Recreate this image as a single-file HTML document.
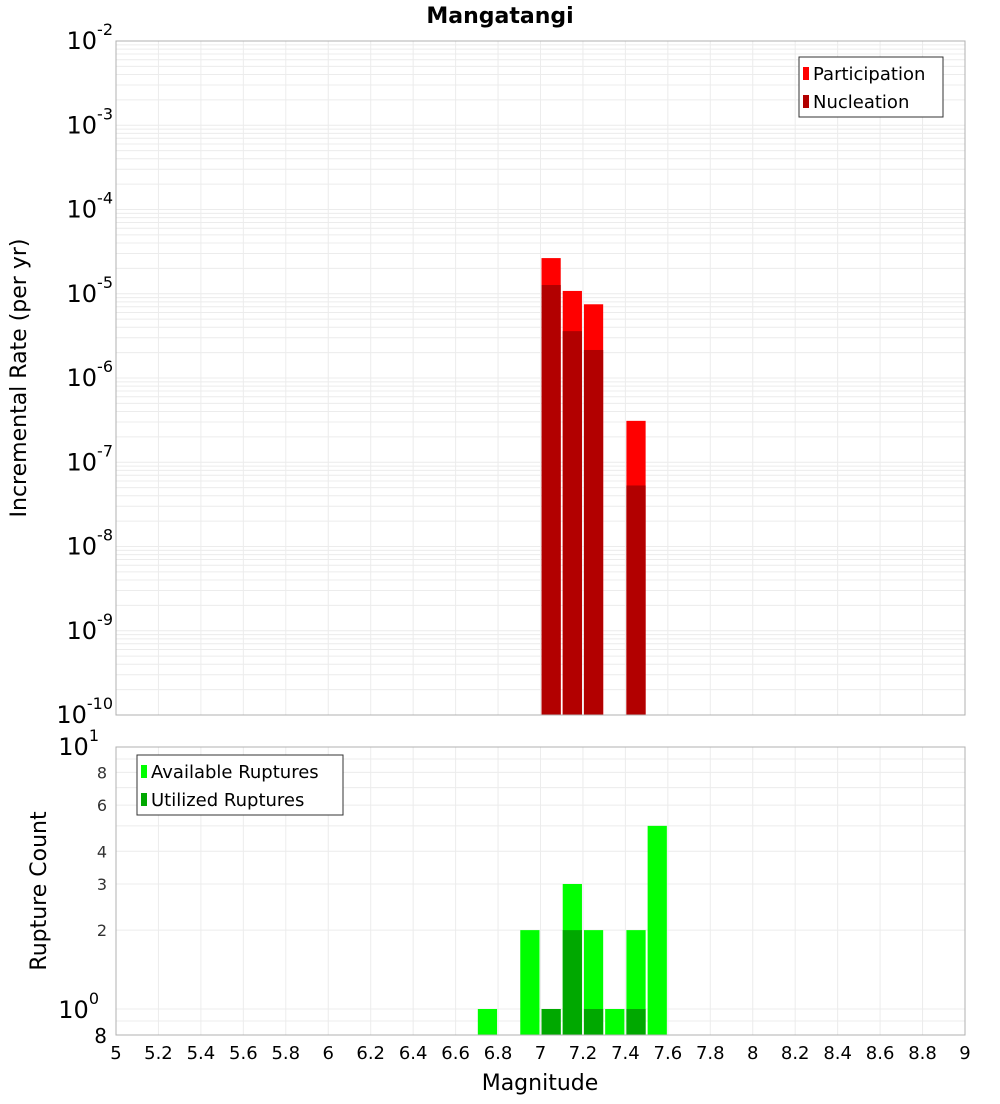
<!DOCTYPE html>
<html><head><meta charset="utf-8"><style>
body{margin:0;background:#fff;font-family:"DejaVu Sans","Liberation Sans",sans-serif;}
svg text{font-family:"DejaVu Sans","Liberation Sans",sans-serif;}
</style></head><body>
<svg id="c" width="1000" height="1100" xmlns="http://www.w3.org/2000/svg"></svg>
<script>
const binStarts=[7.0,7.1,7.2,7.4];
const participation=[2.65e-5,1.08e-5,7.5e-6,3.1e-7];
const nucleation=[1.27e-5,3.6e-6,2.15e-6,5.3e-8];
const countBins=[6.7,6.9,7.0,7.1,7.2,7.3,7.4,7.5];
const available=[1,2,1,3,2,1,2,5];
const utilized=[0,0,1,2,1,0,1,0];
const xTicks=[5,5.2,5.4,5.6,5.8,6,6.2,6.4,6.6,6.8,7,7.2,7.4,7.6,7.8,8,8.2,8.4,8.6,8.8,9];
const topDecades=[-2,-3,-4,-5,-6,-7,-8,-9,-10];
const botMinorTicks=[2,3,4,6,8];

const S=document.getElementById('c');const NS='http://www.w3.org/2000/svg';
function mk(t,a,p){const e=document.createElementNS(NS,t);for(const k in a)e.setAttribute(k,a[k]);(p||S).appendChild(e);return e;}
const X0=116,X1=965;
const x=v=>X0+(v-5)/4*(X1-X0);
const T0=41,T1=715;
const yT=v=>T0+(-2-Math.log10(v))/8*(T1-T0);
const B0=747,B1=1035;
const yB=v=>1009-Math.log10(v)*262;

// title
let t=mk('text',{x:500,y:23,'text-anchor':'middle','font-size':22,'font-weight':'bold'});t.textContent='Mangatangi';



// top grid
let g=mk('g',{});


for(let d=-10;d<-2;d++)for(let m=1;m<10;m++){const yy=yT(m*Math.pow(10,d));mk('line',{x1:X0,x2:X1,y1:yy,y2:yy,stroke:'#ececec','stroke-width':1},g);}
for(const v of xTicks){mk('line',{x1:x(v),x2:x(v),y1:T0,y2:T1,stroke:'#ececec'},g);mk('line',{x1:x(v),x2:x(v),y1:B0,y2:B1,stroke:'#ececec'},g);}
for(let d=0;d<1;d++)for(let m=1;m<10;m++){const yy=yB(m);if(yy>B0&&yy<B1)mk('line',{x1:X0,x2:X1,y1:yy,y2:yy,stroke:'#ececec'},g);}
mk('line',{x1:X0,x2:X1,y1:yB(0.9),y2:yB(0.9),stroke:'#ececec'},g);

// top bars
binStarts.forEach((b,i)=>{
 let r=mk('rect',{x:x(b)+1,y:yT(participation[i]),width:x(b+0.1)-x(b)-2,height:T1-yT(participation[i]),fill:'#ff0000'});
 
 
 r=mk('rect',{x:x(b)+1,y:yT(nucleation[i]),width:x(b+0.1)-x(b)-2,height:T1-yT(nucleation[i]),fill:'#b20000'});
 
 
});
// bottom bars
countBins.forEach((b,i)=>{
 let r=mk('rect',{x:x(b)+1,y:yB(available[i]),width:x(b+0.1)-x(b)-2,height:B1-yB(available[i]),fill:'#00ff00'});
 
 
 if(utilized[i]>0){r=mk('rect',{x:x(b)+1,y:yB(utilized[i]),width:x(b+0.1)-x(b)-2,height:B1-yB(utilized[i]),fill:'#00a800'});
 
 }
});

// frames
mk('rect',{x:X0,y:T0,width:X1-X0,height:T1-T0,fill:'none',stroke:'#b0b0b0'});
mk('rect',{x:X0,y:B0,width:X1-X0,height:B1-B0,fill:'none',stroke:'#b0b0b0'});

// top y labels
topDecades.forEach(d=>{
 const yy=yT(Math.pow(10,d));
 const tt=mk('text',{x:113,y:yy+8,'text-anchor':'end','font-size':24});
 
 
 tt.innerHTML='10<tspan dy="-14" font-size="16">'+d+'</tspan>';
});
// bottom y labels
let bt=mk('text',{x:99,y:755,'text-anchor':'end','font-size':24});bt.innerHTML='10<tspan dy="-14" font-size="16">1</tspan>';


bt=mk('text',{x:99,y:1018,'text-anchor':'end','font-size':24});bt.innerHTML='10<tspan dy="-14" font-size="16">0</tspan>';


bt=mk('text',{x:107,y:1043,'text-anchor':'end','font-size':20});bt.textContent='8';


botMinorTicks.forEach(v=>{const tt=mk('text',{x:107,y:yB(v)+6,'text-anchor':'end','font-size':16,fill:'#333'});tt.textContent=v;
 
 });

// x labels
xTicks.forEach(v=>{const tt=mk('text',{x:x(v),y:1059,'text-anchor':'middle','font-size':18});tt.textContent=String(v);
 
 });
t=mk('text',{x:540,y:1090,'text-anchor':'middle','font-size':22});t.textContent='Magnitude';


t=mk('text',{x:0,y:0,'text-anchor':'middle','font-size':22,transform:'translate(26,378) rotate(-90)'});t.textContent='Incremental Rate (per yr)';


t=mk('text',{x:0,y:0,'text-anchor':'middle','font-size':22,transform:'translate(46,891) rotate(-90)'});t.textContent='Rupture Count';



// legends
function legend(x0,y0,w,items,name){
 const lg=mk('g',{});
 
 
 mk('rect',{x:x0,y:y0,width:w,height:60,fill:'#fff',stroke:'#333'},lg);
 items.forEach((it,i)=>{mk('rect',{x:x0+4,y:y0+10+i*28,width:6,height:13,fill:it[1]},lg);
  const tt=mk('text',{x:x0+14,y:y0+23+i*28,'font-size':18},lg);tt.textContent=it[0];
  
  });
}
legend(799,57,144,[['Participation','#ff0000'],['Nucleation','#b20000']],'top-legend');
legend(137,755,206,[['Available Ruptures','#00ff00'],['Utilized Ruptures','#00a800']],'bottom-legend');
</script>
</body></html>
